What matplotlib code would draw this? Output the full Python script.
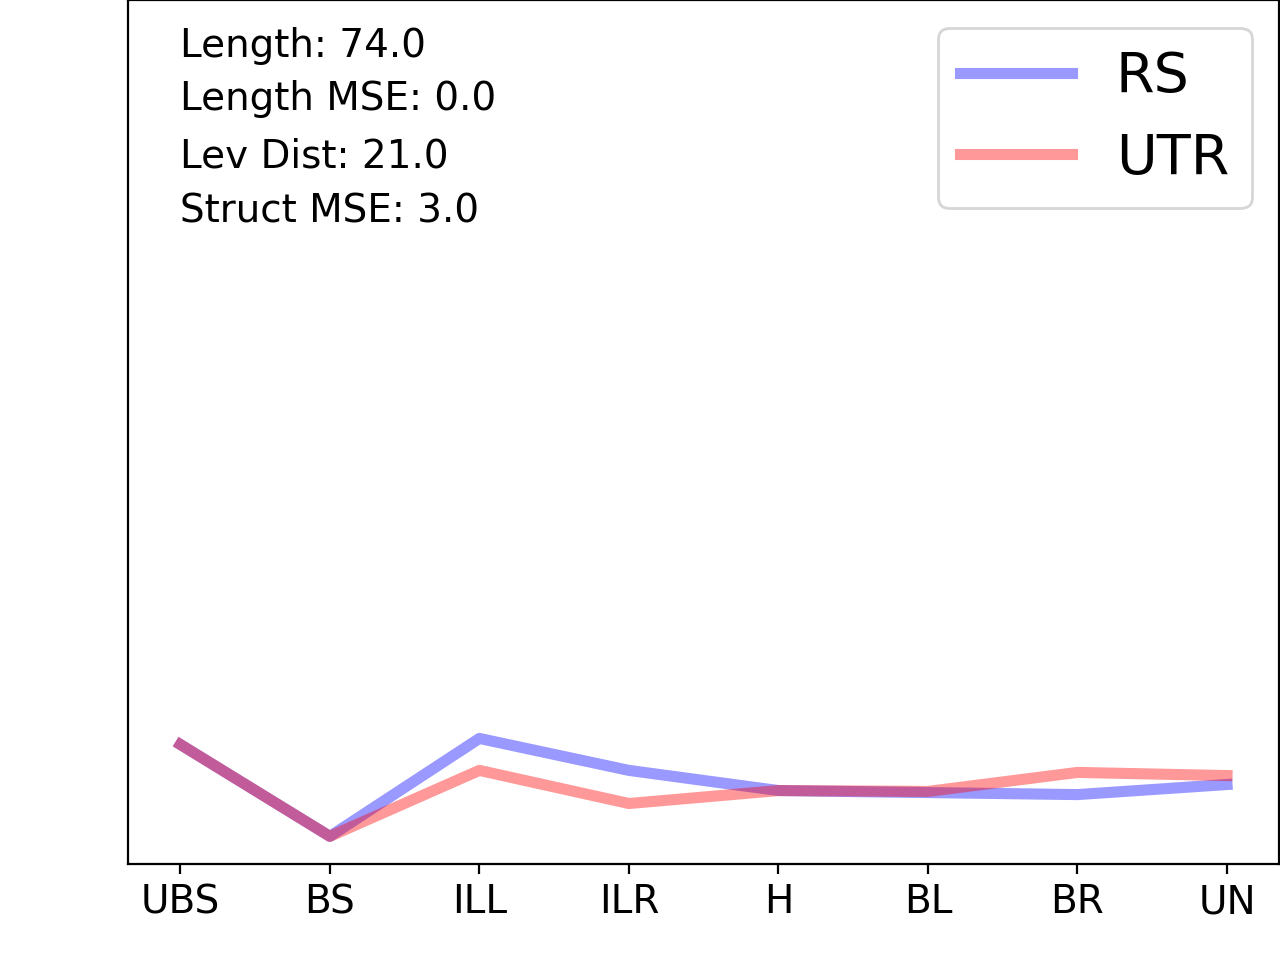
import matplotlib
matplotlib.use("Agg")
import matplotlib.pyplot as plt

labels = ["UBS", "BS", "ILL", "ILR", "H", "BL", "BR", "UN"]
rs = [4.15, 0.96, 4.36, 3.25, 2.55, 2.48, 2.41, 2.76]
utr = [4.15, 0.96, 3.25, 2.10, 2.55, 2.52, 3.18, 3.07]
info = ["Length: 74.0", "Length MSE: 0.0", "Lev Dist: 21.0", "Struct MSE: 3.0"]

fig = plt.figure(figsize=(6.4, 4.8), dpi=200)
ax = fig.add_axes([0.1, 0.1, 0.8995, 0.9])

x = range(len(labels))
ax.plot(x, rs, color="blue", alpha=0.4, linewidth=4, label="RS")
ax.plot(x, utr, color="red", alpha=0.4, linewidth=4, label="UTR")
ax.set_ylim(0, 30)
ax.set_yticks([])
ax.set_xticks(list(x))
ax.set_xticklabels(labels, fontsize=14)

text_y = [0.934, 0.873, 0.806, 0.743]
for s, ty in zip(info, text_y):
    ax.text(0.045, ty, s, transform=ax.transAxes, fontsize=14, va="baseline")

ax.legend(loc="upper right", fontsize=20)
fig.savefig("out.png", dpi=200)
